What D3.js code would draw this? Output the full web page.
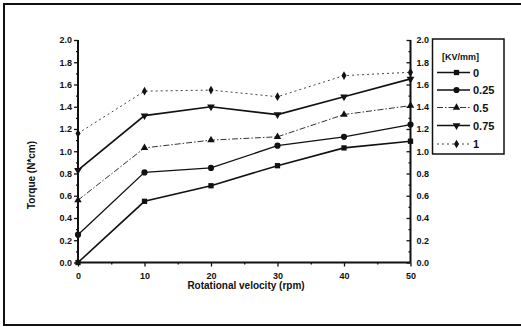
<!DOCTYPE html>
<html><head><meta charset="utf-8">
<script src="https://cdn.jsdelivr.net/npm/d3@7"></script>
<style>body{margin:0;background:#fff}svg{display:block}text{font-family:"Liberation Sans",Arial,sans-serif;font-weight:bold;fill:#111}</style>
</head><body>
<script>
const speeds = [0, 10, 20, 30, 40, 50];
const fieldLabels = ["0", "0.25", "0.5", "0.75", "1"];
const torque0   = [0.00, 0.55, 0.69, 0.87, 1.03, 1.09];
const torque025 = [0.25, 0.81, 0.85, 1.05, 1.13, 1.24];
const torque05  = [0.56, 1.03, 1.10, 1.13, 1.33, 1.41];
const torque075 = [0.83, 1.32, 1.40, 1.33, 1.49, 1.65];
const torque1   = [1.16, 1.54, 1.55, 1.49, 1.68, 1.71];
const xTicks = [0, 10, 20, 30, 40, 50];
const yTicks = [0.0, 0.2, 0.4, 0.6, 0.8, 1.0, 1.2, 1.4, 1.6, 1.8, 2.0];

const series = [
  {name: fieldLabels[0], values: torque0,   sym: d3.symbolSquare,   size: 28, dash: null,      w: 1.6, col: "#111"},
  {name: fieldLabels[1], values: torque025, sym: d3.symbolCircle,   size: 30, dash: null,      w: 1.3, col: "#111"},
  {name: fieldLabels[2], values: torque05,  sym: d3.symbolTriangle, size: 24, dash: "6,2,1.5,2", w: 1.0, col: "#333"},
  {name: fieldLabels[3], values: torque075, sym: "down",            size: 26, dash: null,      w: 1.7, col: "#111"},
  {name: fieldLabels[4], values: torque1,   sym: d3.symbolDiamond,  size: 22, dash: "2,3",     w: 1.0, col: "#444"}
];

const W = 521, H = 327;
const svg = d3.select("body").append("svg").attr("width", W).attr("height", H);

// outer frame
svg.append("rect").attr("x", 4).attr("y", 4).attr("width", 530).attr("height", 321)
  .attr("fill", "none").attr("stroke", "#111").attr("stroke-width", 2);

const x = d3.scaleLinear().domain([0, 50]).range([78, 410.5]);
const y = d3.scaleLinear().domain([0, 2]).range([262.5, 40]);

const fmt = d3.format(".1f");
// left axis
const gl = svg.append("g").attr("transform", `translate(${x(0)},0)`);
gl.call(d3.axisLeft(y).tickValues(yTicks).tickFormat(fmt).tickSize(4).tickPadding(2));
const gl2 = svg.append("g").attr("transform", `translate(${x(0)},0)`);
gl2.call(d3.axisLeft(y).tickValues(d3.range(0.1, 2.0, 0.2)).tickFormat("").tickSize(2));
// right axis (ticks inside, labels outside)
const gr = svg.append("g").attr("transform", `translate(${x(50)},0)`);
gr.call(d3.axisRight(y).tickValues(yTicks).tickFormat(fmt).tickSize(-4).tickPadding(6));
const gr2 = svg.append("g").attr("transform", `translate(${x(50)},0)`);
gr2.call(d3.axisRight(y).tickValues(d3.range(0.1, 2.0, 0.2)).tickFormat("").tickSize(-2));
// bottom axis
const gb = svg.append("g").attr("transform", `translate(0,${y(0)})`);
gb.call(d3.axisBottom(x).tickValues(xTicks).tickFormat(d3.format("d")).tickSize(4).tickPadding(6));
const gb2 = svg.append("g").attr("transform", `translate(0,${y(0)})`);
gb2.call(d3.axisBottom(x).tickValues([5, 15, 25, 35, 45]).tickFormat("").tickSize(2));

svg.selectAll(".domain").attr("stroke", "#111").attr("stroke-width", 2);
svg.selectAll(".tick line").attr("stroke", "#111").attr("stroke-width", 1.3);
svg.selectAll(".tick text").style("font-size", "9px").attr("fill", "#111");
gb.selectAll(".domain").attr("d", `M${x(0)},0H${x(50)}`);
gl.selectAll(".domain").attr("d", `M0,${y(0)}V${y(2)}`);
gr.selectAll(".domain").attr("d", `M0,${y(0)}V${y(2)}`);
[gl2, gr2, gb2].forEach(g => g.select(".domain").remove());

// axis titles
svg.append("text").attr("transform", `translate(35,175) rotate(-90)`)
  .attr("text-anchor", "middle").style("font-size", "10px").text("Torque (N*cm)");
svg.append("text").attr("x", 246).attr("y", 289)
  .attr("text-anchor", "middle").style("font-size", "10px").text("Rotational velocity (rpm)");

function symPath(s, size) {
  if (s === "down") return d3.symbol(d3.symbolTriangle, size)();
  return d3.symbol(s, size)();
}

const line = d3.line().x((d, i) => x(speeds[i])).y(d => y(d));
series.forEach(s => {
  svg.append("path").datum(s.values).attr("d", line).attr("fill", "none")
    .attr("stroke", s.col).attr("stroke-width", s.w)
    .attr("stroke-dasharray", s.dash);
  svg.selectAll(null).data(s.values).enter().append("path")
    .attr("d", symPath(s.sym, s.size))
    .attr("transform", (d, i) => `translate(${x(speeds[i])},${y(d)})` + (s.sym === "down" ? " rotate(180)" : ""))
    .attr("fill", "#111");
});

// legend
const lg = svg.append("g");
lg.append("rect").attr("x", 432.5).attr("y", 39).attr("width", 71.5).attr("height", 115)
  .attr("fill", "#fff").attr("stroke", "#111").attr("stroke-width", 1.5);
lg.append("text").attr("x", 442).attr("y", 60).style("font-size", "9px").text("[KV/mm]");
const ly = [72.5, 90, 107.5, 125.5, 144];
series.forEach((s, k) => {
  lg.append("line").attr("x1", 437).attr("x2", 470).attr("y1", ly[k]).attr("y2", ly[k])
    .attr("stroke", s.col).attr("stroke-width", s.w).attr("stroke-dasharray", s.dash);
  lg.append("path").attr("d", symPath(s.sym, s.size))
    .attr("transform", `translate(456.5,${ly[k]})` + (s.sym === "down" ? " rotate(180)" : ""))
    .attr("fill", "#111");
  lg.append("text").attr("x", 473).attr("y", ly[k] + 4).style("font-size", "11px").text(s.name);
});
</script>
</body></html>
